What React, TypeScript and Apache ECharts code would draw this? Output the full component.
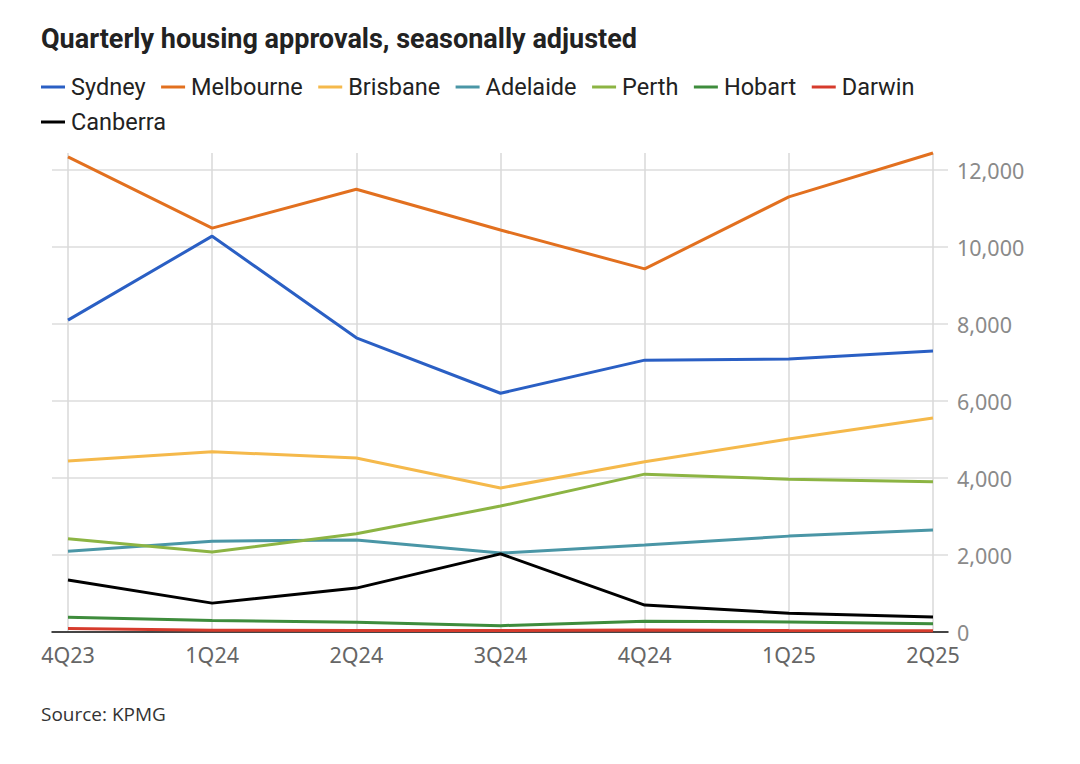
import React, { useEffect, useRef } from "react";
import * as echarts from "echarts";

const categories = ["4Q23", "1Q24", "2Q24", "3Q24", "4Q24", "1Q25", "2Q25"];
const sydney = [8100, 10280, 7640, 6200, 7060, 7090, 7300];
const melbourne = [12340, 10490, 11500, 10440, 9430, 11300, 12440];
const brisbane = [4440, 4680, 4520, 3740, 4420, 5010, 5560];
const adelaide = [2100, 2360, 2390, 2050, 2260, 2490, 2650];
const perth = [2420, 2080, 2550, 3270, 4100, 3970, 3900];
const hobart = [380, 300, 250, 165, 280, 260, 215];
const darwin = [90, 45, 40, 40, 50, 40, 35];
const canberra = [1350, 750, 1140, 2030, 700, 490, 390];
const yTicks = [0, 2000, 4000, 6000, 8000, 10000, 12000];

const seriesDefs = [
  { name: "Sydney", data: sydney, color: "#2a5fc4" },
  { name: "Melbourne", data: melbourne, color: "#e2701f" },
  { name: "Brisbane", data: brisbane, color: "#f5b94b" },
  { name: "Adelaide", data: adelaide, color: "#4a96a6" },
  { name: "Perth", data: perth, color: "#8cb443" },
  { name: "Hobart", data: hobart, color: "#3e8c3c" },
  { name: "Darwin", data: darwin, color: "#d63b2c" },
  { name: "Canberra", data: canberra, color: "#000000" },
];

const legendBase = {
  left: 41,
  padding: 0,
  icon: "rect",
  itemWidth: 24,
  itemHeight: 3,
  itemGap: 15.5,
  textStyle: {
    fontFamily: "Roboto",
    fontSize: 23.5,
    color: "#222222",
    padding: [0, 0, 0, 1],
  },
};

export default function App() {
  const ref = useRef<HTMLDivElement>(null);
  useEffect(() => {
    if (!ref.current) return;
    const chart = echarts.init(ref.current, undefined, { renderer: "svg" });
    const yMax = yTicks[yTicks.length - 1];
    chart.setOption({
      animation: false,
      backgroundColor: "#ffffff",
      title: {
        text: "Quarterly housing approvals, seasonally adjusted",
        left: 41,
        top: 25,
        padding: 0,
        textStyle: {
          fontFamily: "Roboto",
          fontWeight: "bold",
          fontSize: 27,
          color: "#222222",
        },
      },
      legend: [
        { ...legendBase, top: 75, data: seriesDefs.slice(0, 7).map((s) => s.name) },
        { ...legendBase, top: 110, data: seriesDefs.slice(7).map((s) => s.name) },
      ],
      graphic: [
        {
          type: "text",
          left: 41,
          top: 704,
          style: {
            text: "Source: KPMG",
            font: '19px "Open Sans"',
            fill: "#333333",
          },
        },
      ],
      grid: [
        { left: 52, right: 132, top: 170, bottom: 132 },
        { left: 68, right: 147, top: 153, bottom: 132 },
      ],
      xAxis: [
        {
          gridIndex: 0,
          type: "value",
          min: 0,
          max: 1,
          axisLine: { show: true, lineStyle: { color: "#111111", width: 1.5 } },
          axisTick: { show: false },
          axisLabel: { show: false },
          splitLine: { show: false },
          z: 5,
        },
        {
          gridIndex: 1,
          type: "category",
          data: categories,
          boundaryGap: false,
          axisLine: { show: false },
          axisTick: { show: false },
          axisLabel: {
            margin: 11,
            fontFamily: "Noto Sans",
            fontSize: 21.5,
            color: "#666666",
          },
          splitLine: { show: true, lineStyle: { color: "#d9d9d9", width: 1.5 } },
        },
      ],
      yAxis: [
        {
          gridIndex: 0,
          type: "value",
          position: "right",
          min: 0,
          max: yMax,
          interval: 2000,
          axisLine: { show: false },
          axisTick: { show: false },
          axisLabel: {
            margin: 9,
            fontFamily: "Noto Sans",
            fontSize: 21.5,
            color: "#8a8a8a",
            formatter: (v: number) => v.toLocaleString("en-US"),
          },
          splitLine: { show: true, lineStyle: { color: "#dddddd", width: 1.5 } },
        },
        {
          gridIndex: 1,
          type: "value",
          min: 0,
          max: Math.max(...melbourne),
          show: false,
          splitLine: { show: false },
        },
      ],
      series: seriesDefs.map((s) => ({
        name: s.name,
        type: "line",
        xAxisIndex: 1,
        yAxisIndex: 1,
        data: s.data,
        showSymbol: false,
        symbol: "none",
        clip: false,
        color: s.color,
        lineStyle: { color: s.color, width: 3 },
        z: 10,
      })),
    });
    return () => chart.dispose();
  }, []);
  return (
    <div
      ref={ref}
      style={{ position: "absolute", left: 0, top: 0, width: 1080, height: 764 }}
    />
  );
}
